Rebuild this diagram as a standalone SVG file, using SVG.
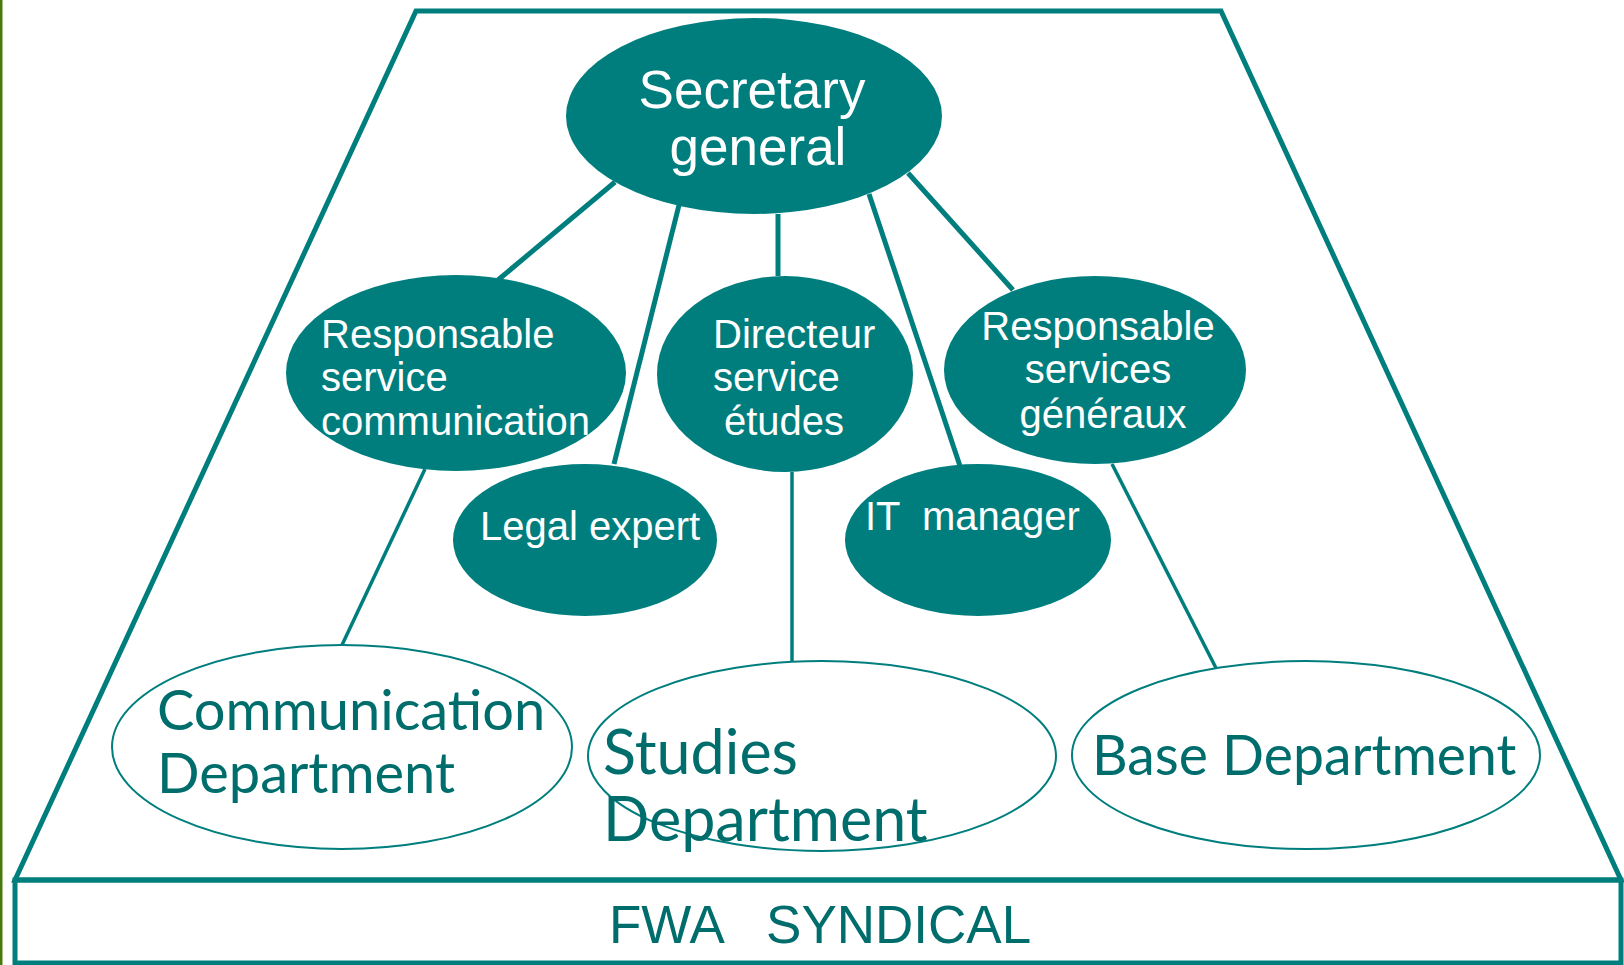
<svg xmlns="http://www.w3.org/2000/svg" width="1624" height="965" viewBox="0 0 1624 965">
<style>
.frame{fill:none;stroke:#007E7E;stroke-width:5;stroke-linejoin:miter}
.node{fill:#007E7E;stroke:none}
.dept{fill:#ffffff;stroke:#007E7E;stroke-width:2}
.lbl{font-family:"Liberation Sans",Arial,sans-serif;fill:#ffffff}
.dtx{font-family:Lato,"Noto Sans",sans-serif;fill:#006D6D}
.c1{stroke:#007E7E;stroke-width:5;fill:none}
.c2{stroke:#007E7E;stroke-width:3.5;fill:none}
</style>
<rect x="0" y="0" width="1624" height="965" fill="#ffffff"/>
<rect x="0" y="0" width="2.5" height="965" fill="#4A7A0C"/>
<g id="frame">
<polygon class="frame" points="416,11 1221,11 1621,880 15,880"/>
<rect class="frame" x="15" y="880" width="1606" height="83"/>
<text x="609" y="943" fill="#006D6D" style="font-family:'Liberation Sans',Arial,sans-serif;font-size:53px;white-space:pre" xml:space="preserve">FWA   SYNDICAL</text>
</g>
<g id="connectors">
<line class="c1" x1="615" y1="182" x2="498" y2="280"/>
<line class="c1" x1="679" y1="205" x2="614" y2="464"/>
<line class="c1" x1="778" y1="214" x2="778" y2="276"/>
<line class="c1" x1="869" y1="194" x2="960" y2="466"/>
<line class="c1" x1="908" y1="173" x2="1013" y2="290"/>
<line class="c2" x1="425" y1="469" x2="342" y2="645"/>
<line class="c2" x1="792" y1="472" x2="792" y2="661"/>
<line class="c2" x1="1112" y1="464" x2="1216" y2="668"/>
</g>
<g id="secretary-general">
<ellipse class="node" cx="754" cy="116" rx="188" ry="98"/>
<text class="lbl" font-size="53" text-anchor="middle"><tspan x="752" y="108">Secretary</tspan><tspan x="758" y="165">general</tspan></text>
</g>
<g id="resp-communication">
<ellipse class="node" cx="456" cy="373" rx="170" ry="98"/>
<text class="lbl" font-size="40"><tspan x="321" y="348">Responsable</tspan><tspan x="321" y="391">service</tspan><tspan x="321" y="435">communication</tspan></text>
</g>
<g id="directeur-etudes">
<ellipse class="node" cx="785" cy="374" rx="128" ry="98"/>
<text class="lbl" font-size="40"><tspan x="713" y="348">Directeur</tspan><tspan x="713" y="391">service</tspan><tspan x="724" y="435">études</tspan></text>
</g>
<g id="resp-services-generaux">
<ellipse class="node" cx="1095" cy="370" rx="151" ry="94"/>
<text class="lbl" font-size="40" text-anchor="middle"><tspan x="1098" y="340">Responsable</tspan><tspan x="1098" y="383">services</tspan><tspan x="1103" y="428">généraux</tspan></text>
</g>
<g id="legal-expert">
<ellipse class="node" cx="585" cy="540" rx="132" ry="76"/>
<text class="lbl" font-size="40" x="480" y="540">Legal expert</text>
</g>
<g id="it-manager">
<ellipse class="node" cx="978" cy="540" rx="133" ry="76"/>
<text class="lbl" font-size="40" x="865" y="530" xml:space="preserve" style="white-space:pre">IT  manager</text>
</g>
<g id="communication-department">
<ellipse class="dept" cx="342" cy="747" rx="230" ry="102"/>
<text class="dtx" font-size="56"><tspan x="157" y="730">Communication</tspan><tspan x="157" y="793">Department</tspan></text>
</g>
<g id="studies-department">
<ellipse class="dept" cx="822" cy="756" rx="234" ry="95"/>
<text class="dtx" font-size="61"><tspan x="603" y="774">Studies</tspan><tspan x="603" y="841">Department</tspan></text>
</g>
<g id="base-department">
<ellipse class="dept" cx="1306" cy="755" rx="234" ry="94"/>
<text class="dtx" font-size="55.3" x="1092" y="775">Base Department</text>
</g>
</svg>
